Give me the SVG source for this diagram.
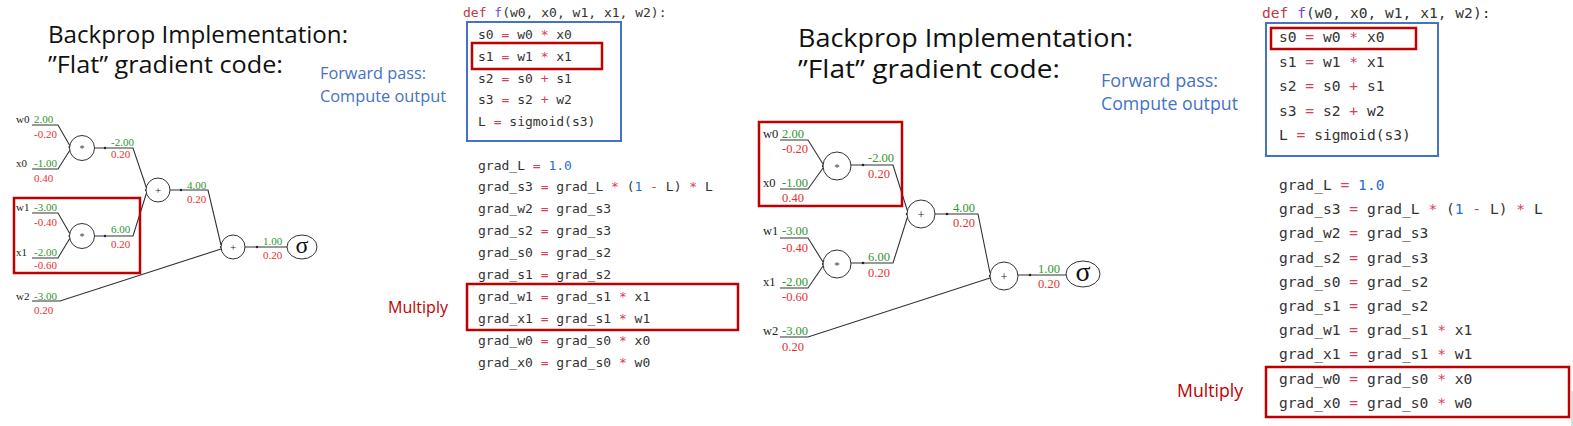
<svg xmlns="http://www.w3.org/2000/svg" width="1573" height="426" viewBox="0 0 1573 426">
<style>
.title{font-family:"Open Sans","Liberation Sans",sans-serif;fill:#111}
.blue{font-family:"Open Sans","Liberation Sans",sans-serif;fill:#4472c4}
.mul{font-family:"Open Sans","Liberation Sans",sans-serif;fill:#c00000}
.c1{font-family:"DejaVu Sans Mono",monospace;font-size:13px;fill:#333}
.c2{font-family:"DejaVu Sans Mono",monospace;font-size:14.6px;fill:#333}
.op{fill:#d6405a}.num{fill:#1f6fd6}.kw{fill:#c0364a}.fn{fill:#7a45c8}
.bbox{fill:none;stroke:#4472c4;stroke-width:2}
.rbox{fill:none;stroke:#c00000;stroke-width:2.5}
.g1,.g2{font-family:"Liberation Serif",serif;fill:#222}
.g1{font-size:11px}.g2{font-size:12.5px}
.gr{fill:#2e962e}.rd{fill:#e8302e}
.node{fill:#fff;stroke:#333;stroke-width:1}
.edge{fill:none;stroke:#333;stroke-width:1.1}
.dot{fill:#222}
.sig1{font-family:"Liberation Serif",serif;font-size:24px;fill:#111}
.sig2{font-family:"Liberation Serif",serif;font-size:28px;fill:#111}
.star1{font-family:"Liberation Serif",serif;font-size:10px;fill:#444}
.star2{font-family:"Liberation Serif",serif;font-size:11px;fill:#444}
</style>

<!-- Left titles -->
<g id="title-left">
<text class="title" x="48" y="43" font-size="23" textLength="300" lengthAdjust="spacingAndGlyphs">Backprop Implementation:</text>
<text class="title" x="48" y="73" font-size="23" textLength="235" lengthAdjust="spacingAndGlyphs">”Flat” gradient code:</text>
</g>
<g id="fwd-left">
<text class="blue" x="320" y="79" font-size="16" textLength="106" lengthAdjust="spacingAndGlyphs">Forward pass:</text>
<text class="blue" x="320" y="102" font-size="16" textLength="126" lengthAdjust="spacingAndGlyphs">Compute output</text>
</g>
<g id="multiply-left"><text class="mul" x="388" y="313" font-size="16" textLength="60" lengthAdjust="spacingAndGlyphs">Multiply</text></g>

<!-- Left code -->
<g id="code-left">
<text class="c1" x="463" y="17"><tspan class="kw">def</tspan> <tspan class="fn">f</tspan>(w0, x0, w1, x1, w2):</text>
<text class="c1" x="478" y="39">s0 <tspan class="op">=</tspan> w0 <tspan class="op">*</tspan> x0</text>
<text class="c1" x="478" y="61">s1 <tspan class="op">=</tspan> w1 <tspan class="op">*</tspan> x1</text>
<text class="c1" x="478" y="82.5">s2 <tspan class="op">=</tspan> s0 <tspan class="op">+</tspan> s1</text>
<text class="c1" x="478" y="104">s3 <tspan class="op">=</tspan> s2 <tspan class="op">+</tspan> w2</text>
<text class="c1" x="478" y="126">L <tspan class="op">=</tspan> sigmoid(s3)</text>
<text class="c1" x="478" y="169.5">grad_L <tspan class="op">=</tspan> <tspan class="num">1.0</tspan></text>
<text class="c1" x="478" y="191.4">grad_s3 <tspan class="op">=</tspan> grad_L <tspan class="op">*</tspan> (<tspan class="num">1</tspan> <tspan class="op">-</tspan> L) <tspan class="op">*</tspan> L</text>
<text class="c1" x="478" y="213.3">grad_w2 <tspan class="op">=</tspan> grad_s3</text>
<text class="c1" x="478" y="235.2">grad_s2 <tspan class="op">=</tspan> grad_s3</text>
<text class="c1" x="478" y="257.1">grad_s0 <tspan class="op">=</tspan> grad_s2</text>
<text class="c1" x="478" y="279">grad_s1 <tspan class="op">=</tspan> grad_s2</text>
<text class="c1" x="478" y="300.9">grad_w1 <tspan class="op">=</tspan> grad_s1 <tspan class="op">*</tspan> x1</text>
<text class="c1" x="478" y="322.8">grad_x1 <tspan class="op">=</tspan> grad_s1 <tspan class="op">*</tspan> w1</text>
<text class="c1" x="478" y="344.7">grad_w0 <tspan class="op">=</tspan> grad_s0 <tspan class="op">*</tspan> x0</text>
<text class="c1" x="478" y="366.6">grad_x0 <tspan class="op">=</tspan> grad_s0 <tspan class="op">*</tspan> w0</text>
<rect class="bbox" x="467" y="22" width="154" height="119"/>
<rect class="rbox" x="472" y="43" width="130" height="26"/>
<rect class="rbox" x="467" y="284" width="271" height="46"/>
</g>

<!-- Left graph connectors -->
<g id="edges-left">
<polyline class="edge" points="32,125 58,125 70,146"/>
<polyline class="edge" points="32,169 58,169 70,150"/>
<polyline class="edge" points="32,213 58,213 70,234"/>
<polyline class="edge" points="32,258 58,258 70,238"/>
<polyline class="edge" points="94.5,148 133,148 146.5,188"/>
<polyline class="edge" points="94.5,236 133,236 146.5,193"/>
<polyline class="edge" points="170,190 208,190 221,245"/>
<polyline class="edge" points="245,247 287,247"/>
<polyline class="edge" points="32,301 60,301 221,249"/>
<circle class="dot" cx="105" cy="148" r="1.2"/>
<circle class="dot" cx="105" cy="236" r="1.2"/>
<circle class="dot" cx="181" cy="190" r="1.2"/>
<circle class="dot" cx="257" cy="247" r="1.2"/>
<circle class="dot" cx="69.5" cy="147" r="1.1"/>
<circle class="dot" cx="69.5" cy="236" r="1.1"/>
<circle class="dot" cx="146" cy="190" r="1.1"/>
<circle class="dot" cx="221" cy="247" r="1.1"/>
</g>
<g id="nodes-left">
<g id="l-w0"><text class="g1" x="16" y="122.5">w0</text><text class="g1 gr" x="34" y="123">2.00</text><text class="g1 rd" x="34" y="138">-0.20</text></g>
<g id="l-x0"><text class="g1" x="16" y="166.5">x0</text><text class="g1 gr" x="34" y="167">-1.00</text><text class="g1 rd" x="34" y="182">0.40</text></g>
<g id="l-w1"><text class="g1" x="16" y="210.5">w1</text><text class="g1 gr" x="34" y="211">-3.00</text><text class="g1 rd" x="34" y="226">-0.40</text></g>
<g id="l-x1"><text class="g1" x="16" y="255.5">x1</text><text class="g1 gr" x="34" y="256">-2.00</text><text class="g1 rd" x="34" y="269">-0.60</text></g>
<g id="l-w2"><text class="g1" x="16" y="299.5">w2</text><text class="g1 gr" x="34" y="300">-3.00</text><text class="g1 rd" x="34" y="314">0.20</text></g>
<g id="l-mul0"><circle class="node" cx="82" cy="148" r="12.5"/><text class="star1" x="82" y="152" text-anchor="middle">*</text><text class="g1 gr" x="111" y="146">-2.00</text><text class="g1 rd" x="111" y="158">0.20</text></g>
<g id="l-mul1"><circle class="node" cx="82" cy="236" r="12.5"/><text class="star1" x="82" y="240" text-anchor="middle">*</text><text class="g1 gr" x="111" y="233">6.00</text><text class="g1 rd" x="111" y="248">0.20</text></g>
<g id="l-add0"><circle class="node" cx="158" cy="190" r="12"/><text class="g1" x="158" y="194" text-anchor="middle">+</text><text class="g1 gr" x="187" y="189">4.00</text><text class="g1 rd" x="187" y="203">0.20</text></g>
<g id="l-add1"><circle class="node" cx="233" cy="247" r="12"/><text class="g1" x="233" y="251" text-anchor="middle">+</text><text class="g1 gr" x="263" y="244.5">1.00</text><text class="g1 rd" x="263" y="259">0.20</text></g>
<g id="l-sigma"><ellipse class="node" cx="302" cy="247" rx="15" ry="12" stroke-width="1.3"/><text class="sig1" x="302" y="253" text-anchor="middle">σ</text></g>
<rect class="rbox" x="14" y="198" width="126" height="75"/>
</g>

<!-- Right titles -->
<g id="title-right">
<text class="title" x="798" y="47" font-size="26" textLength="335" lengthAdjust="spacingAndGlyphs">Backprop Implementation:</text>
<text class="title" x="798" y="78" font-size="26" textLength="262" lengthAdjust="spacingAndGlyphs">”Flat” gradient code:</text>
</g>
<g id="fwd-right">
<text class="blue" x="1101" y="87" font-size="17.5" textLength="117" lengthAdjust="spacingAndGlyphs">Forward pass:</text>
<text class="blue" x="1101" y="110" font-size="17.5" textLength="137" lengthAdjust="spacingAndGlyphs">Compute output</text>
</g>
<g id="multiply-right"><text class="mul" x="1177" y="397" font-size="17.5" textLength="66" lengthAdjust="spacingAndGlyphs">Multiply</text></g>

<!-- Right code -->
<g id="code-right">
<text class="c2" x="1262" y="18"><tspan class="kw">def</tspan> <tspan class="fn">f</tspan>(w0, x0, w1, x1, w2):</text>
<text class="c2" x="1279" y="42">s0 <tspan class="op">=</tspan> w0 <tspan class="op">*</tspan> x0</text>
<text class="c2" x="1279" y="67">s1 <tspan class="op">=</tspan> w1 <tspan class="op">*</tspan> x1</text>
<text class="c2" x="1279" y="91">s2 <tspan class="op">=</tspan> s0 <tspan class="op">+</tspan> s1</text>
<text class="c2" x="1279" y="116">s3 <tspan class="op">=</tspan> s2 <tspan class="op">+</tspan> w2</text>
<text class="c2" x="1279" y="140">L <tspan class="op">=</tspan> sigmoid(s3)</text>
<text class="c2" x="1279" y="190">grad_L <tspan class="op">=</tspan> <tspan class="num">1.0</tspan></text>
<text class="c2" x="1279" y="214.2">grad_s3 <tspan class="op">=</tspan> grad_L <tspan class="op">*</tspan> (<tspan class="num">1</tspan> <tspan class="op">-</tspan> L) <tspan class="op">*</tspan> L</text>
<text class="c2" x="1279" y="238.4">grad_w2 <tspan class="op">=</tspan> grad_s3</text>
<text class="c2" x="1279" y="262.6">grad_s2 <tspan class="op">=</tspan> grad_s3</text>
<text class="c2" x="1279" y="286.8">grad_s0 <tspan class="op">=</tspan> grad_s2</text>
<text class="c2" x="1279" y="311">grad_s1 <tspan class="op">=</tspan> grad_s2</text>
<text class="c2" x="1279" y="335.2">grad_w1 <tspan class="op">=</tspan> grad_s1 <tspan class="op">*</tspan> x1</text>
<text class="c2" x="1279" y="359.4">grad_x1 <tspan class="op">=</tspan> grad_s1 <tspan class="op">*</tspan> w1</text>
<text class="c2" x="1279" y="383.6">grad_w0 <tspan class="op">=</tspan> grad_s0 <tspan class="op">*</tspan> x0</text>
<text class="c2" x="1279" y="407.8">grad_x0 <tspan class="op">=</tspan> grad_s0 <tspan class="op">*</tspan> w0</text>
<rect class="bbox" x="1266" y="23" width="172" height="133"/>
<rect class="rbox" x="1271" y="28" width="145" height="21"/>
<rect class="rbox" x="1266" y="367" width="303" height="50"/>
<line x1="1572" y1="391" x2="1572" y2="426" stroke="#bbb" stroke-width="1"/>
</g>

<!-- Right graph connectors -->
<g id="edges-right">
<polyline class="edge" points="780,140 808,140 823,164"/>
<polyline class="edge" points="780,189 808,189 823,168"/>
<polyline class="edge" points="780,238 808,238 823,262"/>
<polyline class="edge" points="780,288 808,288 823,266"/>
<polyline class="edge" points="851,165 893,165 907.5,211"/>
<polyline class="edge" points="851,263 893,263 907.5,217"/>
<polyline class="edge" points="935,214 978,214 990,273"/>
<polyline class="edge" points="1018,275 1066,275"/>
<polyline class="edge" points="780,337 808,337 990,278"/>
<circle class="dot" cx="863" cy="165" r="1.3"/>
<circle class="dot" cx="863" cy="263" r="1.3"/>
<circle class="dot" cx="947" cy="214" r="1.3"/>
<circle class="dot" cx="1030" cy="275" r="1.3"/>
<circle class="dot" cx="823" cy="166" r="1.2"/>
<circle class="dot" cx="823" cy="264" r="1.2"/>
<circle class="dot" cx="907" cy="214" r="1.2"/>
<circle class="dot" cx="990" cy="276" r="1.2"/>
</g>
<g id="nodes-right">
<g id="r-w0"><text class="g2" x="763" y="137.5">w0</text><text class="g2 gr" x="782" y="137.5">2.00</text><text class="g2 rd" x="782" y="152.5">-0.20</text></g>
<g id="r-x0"><text class="g2" x="763" y="186.5">x0</text><text class="g2 gr" x="782" y="186.5">-1.00</text><text class="g2 rd" x="782" y="201.5">0.40</text></g>
<g id="r-w1"><text class="g2" x="763" y="234.5">w1</text><text class="g2 gr" x="782" y="234.5">-3.00</text><text class="g2 rd" x="782" y="251.5">-0.40</text></g>
<g id="r-x1"><text class="g2" x="763" y="285.5">x1</text><text class="g2 gr" x="782" y="285.5">-2.00</text><text class="g2 rd" x="782" y="300.5">-0.60</text></g>
<g id="r-w2"><text class="g2" x="763" y="334.5">w2</text><text class="g2 gr" x="782" y="334.5">-3.00</text><text class="g2 rd" x="782" y="350.5">0.20</text></g>
<g id="r-mul0"><circle class="node" cx="837" cy="166" r="14"/><text class="star2" x="837" y="170.5" text-anchor="middle">*</text><text class="g2 gr" x="868" y="161.5">-2.00</text><text class="g2 rd" x="868" y="177.5">0.20</text></g>
<g id="r-mul1"><circle class="node" cx="837" cy="264" r="14"/><text class="star2" x="837" y="268.5" text-anchor="middle">*</text><text class="g2 gr" x="868" y="260.5">6.00</text><text class="g2 rd" x="868" y="276.5">0.20</text></g>
<g id="r-add0"><circle class="node" cx="921" cy="214" r="14"/><text class="g2" x="921" y="218.5" text-anchor="middle">+</text><text class="g2 gr" x="953" y="211.5">4.00</text><text class="g2 rd" x="953" y="226.5">0.20</text></g>
<g id="r-add1"><circle class="node" cx="1004" cy="276" r="14"/><text class="g2" x="1004" y="280.5" text-anchor="middle">+</text><text class="g2 gr" x="1038" y="272.5">1.00</text><text class="g2 rd" x="1038" y="287.5">0.20</text></g>
<g id="r-sigma"><ellipse class="node" cx="1083" cy="274" rx="17" ry="13" stroke-width="1.4"/><text class="sig2" x="1083" y="281" text-anchor="middle">σ</text></g>
<rect class="rbox" x="759" y="122" width="143" height="84"/>
</g>
</svg>
